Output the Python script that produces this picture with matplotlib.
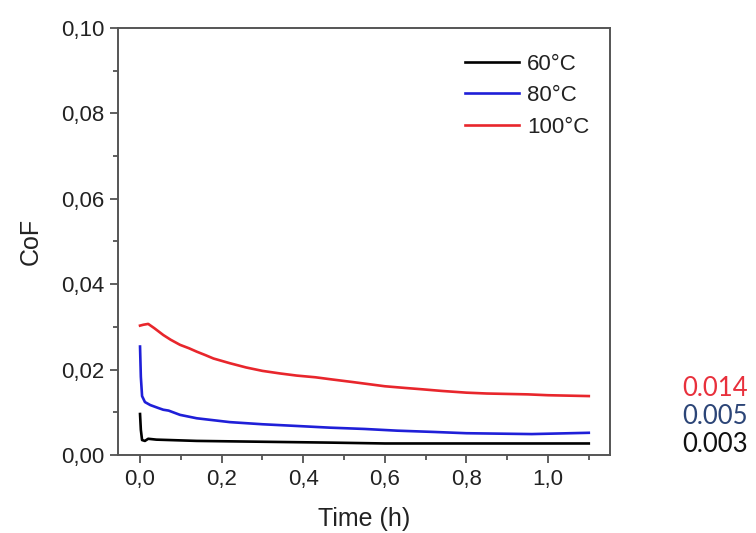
import matplotlib
matplotlib.use("Agg")
import matplotlib.pyplot as plt
from matplotlib.ticker import MultipleLocator, FuncFormatter

plt.rcParams['font.family'] = ['Liberation Sans', 'DejaVu Sans']

# ---- data ----
t_100 = [0.000, 0.008, 0.020, 0.035, 0.057, 0.075, 0.098, 0.120, 0.139, 0.160,
         0.180, 0.220, 0.260, 0.300, 0.343, 0.384, 0.430, 0.470, 0.520, 0.560,
         0.600, 0.650, 0.690, 0.740, 0.800, 0.850, 0.900, 0.950, 1.000, 1.050, 1.100]
cof_100 = [0.0303, 0.0305, 0.0307, 0.0297, 0.0281, 0.0270, 0.0258, 0.0250, 0.0242, 0.0234,
           0.0226, 0.0215, 0.0205, 0.0197, 0.0191, 0.0186, 0.0182, 0.0177, 0.0171, 0.0166,
           0.0161, 0.0157, 0.0154, 0.0150, 0.0146, 0.0144, 0.0143, 0.0142, 0.0140, 0.0139, 0.0138]

t_80 = [0.000, 0.002, 0.005, 0.012, 0.025, 0.045, 0.057, 0.070, 0.098, 0.139,
        0.220, 0.300, 0.384, 0.466, 0.550, 0.630, 0.720, 0.800, 0.960, 1.100]
cof_80 = [0.0254, 0.0183, 0.0138, 0.0124, 0.0117, 0.0110, 0.0106, 0.0104, 0.0094, 0.0086,
          0.0077, 0.0072, 0.0068, 0.0064, 0.0061, 0.0057, 0.0054, 0.0051, 0.0049, 0.0052]

t_60 = [0.000, 0.002, 0.005, 0.012, 0.020, 0.040, 0.139, 0.300, 0.466, 0.600,
        0.800, 1.100]
cof_60 = [0.0096, 0.0059, 0.0035, 0.0033, 0.0038, 0.0036, 0.0033, 0.0031, 0.0029, 0.0027,
          0.0027, 0.0027]

labels = ['60°C', '80°C', '100°C']
colors = ['#000000', '#1f1fd8', '#e8262c']
final_vals = ['0.014', '0.005', '0.003']
final_colors = ['#e8303c', '#2c4577', '#111111']

fig = plt.figure(figsize=(7.56, 5.33), dpi=100)
ax = fig.add_axes([118/756, 78/533, 492/756, 427/533])

ax.plot(t_60, cof_60, color=colors[0], lw=1.9, label=labels[0])
ax.plot(t_80, cof_80, color=colors[1], lw=1.9, label=labels[1])
ax.plot(t_100, cof_100, color=colors[2], lw=1.9, label=labels[2])

ax.set_xlim(-0.054, 1.152)
ax.set_ylim(0, 0.10)
ax.xaxis.set_major_locator(MultipleLocator(0.2))
ax.xaxis.set_minor_locator(MultipleLocator(0.1))
ax.yaxis.set_major_locator(MultipleLocator(0.02))
ax.yaxis.set_minor_locator(MultipleLocator(0.01))
ax.xaxis.set_major_formatter(FuncFormatter(lambda v, p: f"{v:.1f}".replace('.', ',')))
ax.yaxis.set_major_formatter(FuncFormatter(lambda v, p: f"{v:.2f}".replace('.', ',')))
ax.tick_params(which='both', direction='out', color='#444444', top=False, right=False)
ax.tick_params(which='major', length=6, width=1.2, labelsize=16, labelcolor='#222222', pad=4)
ax.tick_params(which='minor', length=3.5, width=1.2)
for s in ax.spines.values():
    s.set_color('#555555')
    s.set_linewidth(1.4)

ax.set_xlabel('Time (h)', fontsize=18, color='#222222', labelpad=12)
ax.set_ylabel('CoF', fontsize=18, color='#222222', labelpad=13)

leg = ax.legend(loc='upper left', bbox_to_anchor=(0.705, 0.94), frameon=False,
                fontsize=16, handlelength=2.45, handletextpad=0.35, labelspacing=0.47,
                borderaxespad=0, borderpad=0)
for txt in leg.get_texts():
    txt.set_color('#222222')

ys = [388, 416, 445]
for v, c, yp in zip(final_vals, final_colors, ys):
    fig.text(682/756, 1 - yp/533, v, color=c, fontsize=18.5, family=['Lato', 'DejaVu Sans'],
             ha='left', va='center')

fig.savefig('out.png', dpi=100)
